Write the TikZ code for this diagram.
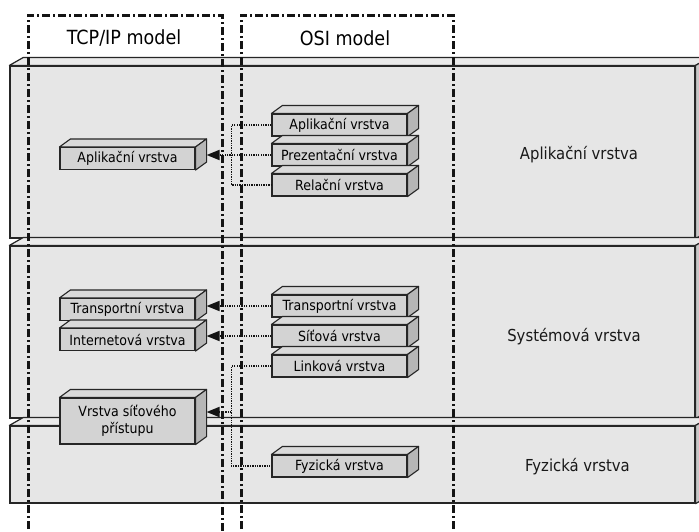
\documentclass[tikz,border=0pt]{standalone}
\usepackage{fontspec}
\setmainfont{DejaVu Sans}[FakeStretch=0.9]
\usetikzlibrary{arrows.meta}

\definecolor{edge}{HTML}{262626}
\definecolor{slabfront}{HTML}{E6E6E6}
\definecolor{slabtop}{HTML}{EAEAEA}
\definecolor{slabside}{HTML}{C8C8C8}
\definecolor{boxfront}{HTML}{D3D3D3}
\definecolor{boxtop}{HTML}{DADADA}
\definecolor{boxside}{HTML}{B6B6B6}
\definecolor{guide}{HTML}{141414}

\tikzset{
  slab/.style={draw=edge, fill=slabfront, line width=1.2pt, inner sep=0pt},
  slabtopface/.style={draw=edge, fill=slabtop, line width=1.2pt, line join=round},
  slabsideface/.style={draw=edge, fill=slabside, line width=1.2pt, line join=round},
  blk/.style={draw=edge, fill=boxfront, line width=1.1pt, inner sep=0pt,
    minimum width=135pt, minimum height=22pt, align=center,
    font=\fontsize{14}{17}\selectfont},
  blktopface/.style={draw=edge, fill=boxtop, line width=1.1pt, line join=round},
  blksideface/.style={draw=edge, fill=boxside, line width=1.1pt, line join=round},
  column/.style={draw=guide, line width=3pt,
    dash pattern=on 8pt off 3pt on 2pt off 3pt},
  coltitle/.style={font=\fontsize{19.5}{22}\selectfont, text=black},
  layername/.style={font=\fontsize{16.5}{19}\selectfont, text=black!90},
  conn/.style={draw=guide, line width=1.8pt, dash pattern=on 1.3pt off 1.1pt},
  tip/.style={-{Triangle[length=13pt,width=10pt]}},
}

\begin{document}
\begin{tikzpicture}[x=1pt, y=-1pt]
\useasboundingbox (0,0) rectangle (699,531);
\clip (0,0) rectangle (699,531);
\fill[white] (0,0) rectangle (699,531);

% the three layer slabs
\node[slab, minimum width=685pt, minimum height=172pt] (s1) at (352.5,152) {};
\node[slab, minimum width=685pt, minimum height=172pt] (s2) at (352.5,332) {};
\node[slab, minimum width=685pt, minimum height=77pt]  (s3) at (352.5,464.5) {};
\foreach \s in {s1,s2,s3}{
  \path[slabtopface] (\s.north west) -- ++(14,-8) -- ([shift={(14,-8)}]\s.north east)
        -- (\s.north east) -- cycle;
  \path[slabsideface] (\s.north east) -- ++(14,-8) -- ([shift={(14,-8)}]\s.south east)
        -- (\s.south east) -- cycle;
}

% layer names
\node[layername] (ln1) at (579,155) {Aplikační vrstva};
\node[layername] (ln2) at (574,337) {Systémová vrstva};
\node[layername] (ln3) at (577.5,467) {Fyzická vrstva};

% model columns
\draw[column] (28,545) -- (28,15) -- (222,15) -- (222,545);
\draw[column] (241,545) -- (241,15) -- (453,15) -- (453,545);
\node[coltitle] (tcptitle) at (124,38) {TCP/IP model};
\node[coltitle] (osititle) at (345,38) {OSI model};

% OSI layers
\node[blk] (osiA) at (339.5,125) {Aplikační vrstva};
\node[blk] (osiP) at (339.5,155) {Prezentační vrstva};
\node[blk] (osiR) at (339.5,185) {Relační vrstva};
\node[blk] (osiT) at (339.5,306) {Transportní vrstva};
\node[blk] (osiS) at (339.5,336) {Síťová vrstva};
\node[blk] (osiL) at (339.5,366) {Linková vrstva};
\node[blk] (osiF) at (339.5,466) {Fyzická vrstva};

% TCP/IP layers
\node[blk] (tcpA) at (127.5,158.5) {Aplikační vrstva};
\node[blk] (tcpT) at (127.5,309.5) {Transportní vrstva};
\node[blk] (tcpI) at (127.5,339.5) {Internetová vrstva};
\node[blk, minimum height=46pt] (tcpN) at (127.5,421) {Vrstva síťového\\přístupu};

\foreach \b in {osiA,osiP,osiR,osiT,osiS,osiL,osiF,tcpA,tcpT,tcpI,tcpN}{
  \path[blktopface] (\b.north west) -- ++(11,-8) -- ([shift={(11,-8)}]\b.north east)
        -- (\b.north east) -- cycle;
  \path[blksideface] (\b.north east) -- ++(11,-8) -- ([shift={(11,-8)}]\b.south east)
        -- (\b.south east) -- cycle;
}

% mapping between the models
\draw[conn] (osiA.west) -- ++(-40,0) |- (osiR.west);
\draw[conn, tip] (osiP.west) -- ([xshift=11pt]osiP.west -| tcpA.east);
\draw[conn, tip] (osiT.west) -- ([xshift=11pt]osiT.west -| tcpT.east);
\draw[conn, tip] (osiS.west) -- ([xshift=11pt]osiS.west -| tcpI.east);
\draw[conn] (osiL.west) -- ++(-40,0) |- (osiF.west);
\coordinate (join) at ([xshift=-40pt]osiL.west |- tcpN.center);
\coordinate (joinl) at ([yshift=9pt]join);
\draw[conn, tip] (joinl) -- ([xshift=11pt]joinl -| tcpN.east);
\end{tikzpicture}
\end{document}
